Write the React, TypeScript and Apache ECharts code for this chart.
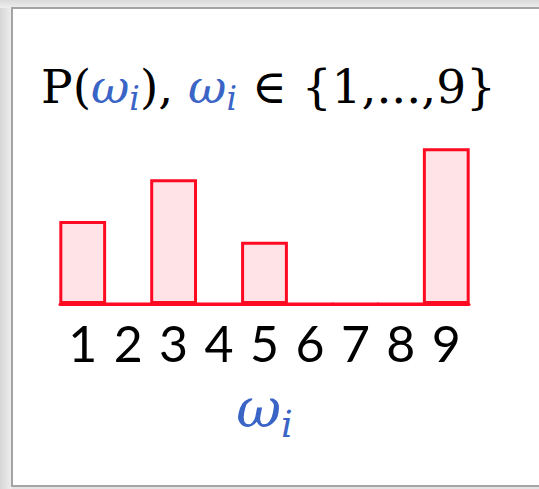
import React, { useEffect, useRef } from "react";
import * as echarts from "echarts";

// Outcomes of the discrete random variable and their probabilities
const outcomes: string[] = ["1", "2", "3", "4", "5", "6", "7", "8", "9"];
const probabilities: number[] = [0.2, 0, 0.3, 0, 0.15, 0, 0, 0, 0.375];

// Formula pieces: n = upright, w = italic variable, s = italic subscript
const titlePieces: [string, string][] = [
  ["P(", "n"],
  ["ω", "w"],
  ["i", "s"],
  ["), ", "n"],
  ["ω", "w"],
  ["i", "s"],
  [" ∈ ", "n"],
  ["{1,...,9}", "n"],
];
const axisNamePieces: [string, string][] = [
  ["ω", "w"],
  ["i", "s"],
];

const BLUE = "#3a64c6";
const RED = "#ff0a23";
const PINK = "#ffe3e6";
const MATH_FONT = "DejaVu Serif";

type Line = {
  cx: number;
  size: number;
  subSize: number;
  baseY: number;
  subBaseY: number;
};

// Lay out a formula as separate text elements, measured with canvas so the
// subscripts can sit below the baseline.
function formula(pieces: [string, string][], line: Line) {
  const ctx = document.createElement("canvas").getContext("2d")!;
  const fontOf = (kind: string) => {
    const size = kind === "s" ? line.subSize : line.size;
    const style = kind === "n" ? "normal" : "italic";
    return { size, style, css: `${style} ${size}px "${MATH_FONT}"` };
  };
  const widths = pieces.map(([t, k]) => {
    ctx.font = fontOf(k).css;
    return ctx.measureText(t).width;
  });
  const total = widths.reduce((a, b) => a + b, 0);
  let x = line.cx - total / 2;
  return pieces.map(([t, k], i) => {
    const f = fontOf(k);
    const base = k === "s" ? line.subBaseY : line.baseY;
    const el = {
      type: "text",
      x,
      y: base - 0.346 * f.size,
      style: {
        text: t,
        fontFamily: MATH_FONT,
        fontSize: f.size,
        fontStyle: f.style,
        fontWeight: "normal",
        fill: k === "n" ? "#000000" : BLUE,
        align: "left",
        verticalAlign: "middle",
      },
    };
    x += widths[i];
    return el;
  });
}

export default function App() {
  const ref = useRef<HTMLDivElement>(null);

  useEffect(() => {
    if (!ref.current) return;
    const chart = echarts.init(ref.current, undefined, { renderer: "svg" });
    chart.setOption({
      animation: false,
      backgroundColor: "#ffffff",
      graphic: [
        // slide frame with a soft shadow on the left and top
        { type: "rect", z: -10, shape: { x: 0, y: 0, width: 539, height: 489 }, style: { fill: "#e4e4e4" } },
        {
          type: "rect",
          z: -9,
          shape: { x: 0, y: 0, width: 12, height: 489 },
          style: {
            fill: new echarts.graphic.LinearGradient(0, 0, 1, 0, [
              { offset: 0, color: "#d6d6d6" },
              { offset: 1, color: "#efefef" },
            ]),
          },
        },
        {
          type: "rect",
          z: -9,
          shape: { x: 0, y: 0, width: 539, height: 8 },
          style: {
            fill: new echarts.graphic.LinearGradient(0, 0, 0, 1, [
              { offset: 0, color: "#dadada" },
              { offset: 1, color: "#eeeeee" },
            ]),
          },
        },
        {
          type: "rect",
          z: -8,
          shape: { x: 12, y: 8, width: 540, height: 478 },
          style: { fill: "#ffffff", stroke: "#a4a4a4", lineWidth: 2 },
        },
        ...formula(titlePieces, { cx: 268.5, size: 47, subSize: 33, baseY: 103, subBaseY: 110 }),
        ...formula(axisNamePieces, { cx: 264.5, size: 55, subSize: 37, baseY: 427, subBaseY: 437 }),
      ],
      grid: {
        left: 60,
        width: 409,
        top: 117,
        height: 187,
        outerBoundsMode: "none",
      },
      xAxis: {
        type: "category",
        data: outcomes,
        axisTick: { show: false },
        axisLine: { show: true, lineStyle: { color: RED, width: 3 } },
        axisLabel: {
          margin: 14,
          fontFamily: "Lato, 'Open Sans', sans-serif",
          fontSize: 50,
          color: "#000",
        },
      },
      yAxis: {
        type: "value",
        min: 0,
        max: 0.45,
        show: false,
        splitLine: { show: false },
      },
      series: [
        {
          type: "bar",
          data: probabilities,
          barWidth: "103%",
          barGap: "0%",
          itemStyle: { color: PINK, borderColor: RED, borderWidth: 3 },
        },
      ],
    });
    return () => chart.dispose();
  }, []);

  return (
    <div
      ref={ref}
      style={{ position: "fixed", left: 0, top: 0, width: 539, height: 489 }}
    />
  );
}
